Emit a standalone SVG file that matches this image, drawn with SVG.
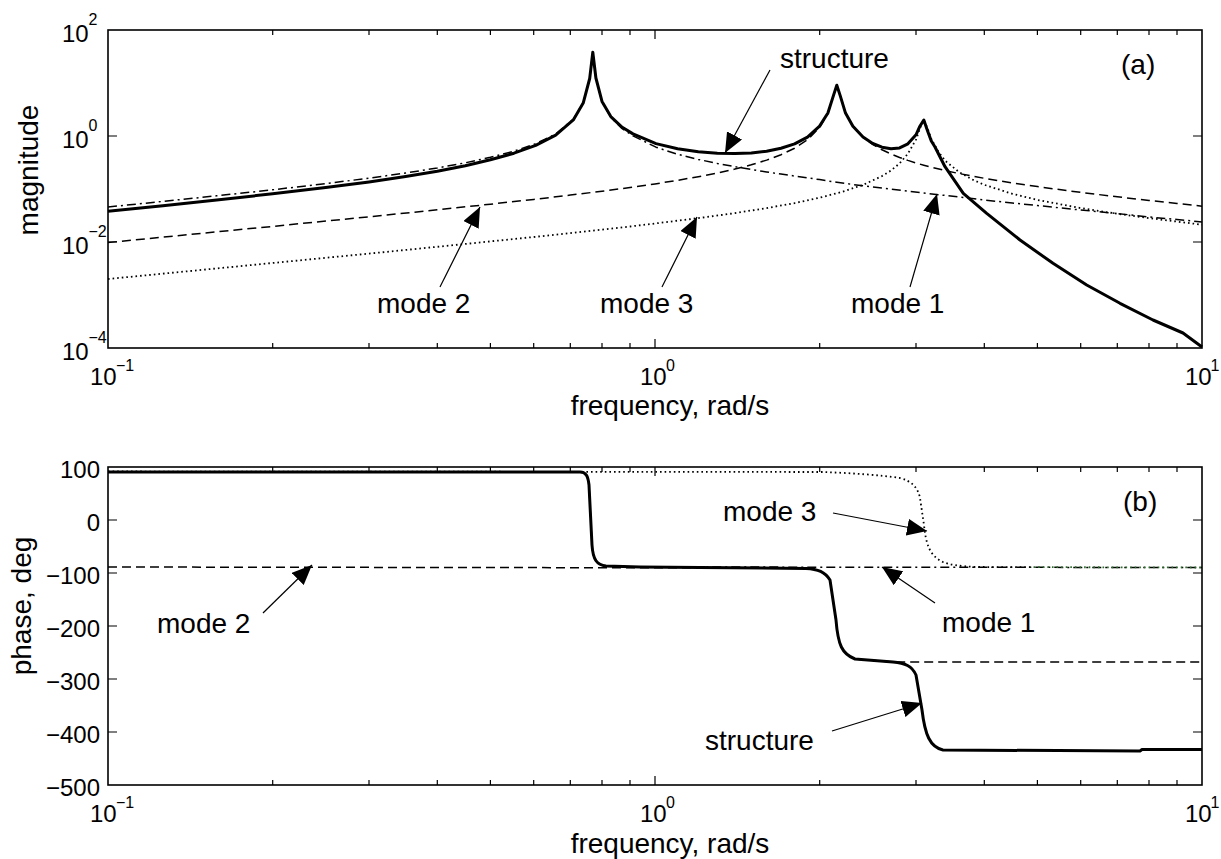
<svg xmlns="http://www.w3.org/2000/svg" width="1221" height="859" viewBox="0 0 1221 859">
<style>
text{font-family:"Liberation Sans",Arial,sans-serif;fill:#000}
.lbl{font-size:28px}
.tk{font-size:24px}
.sup{font-size:16px}
.ax{fill:none;stroke:#000;stroke-width:1.6}
.tick{stroke:#000;stroke-width:1.2}
.st{fill:none;stroke:#000;stroke-width:3;stroke-linejoin:round}
.m1{fill:none;stroke:#000;stroke-width:1.5;stroke-dasharray:9 4 2 4;stroke-linejoin:round}
.m2{fill:none;stroke:#000;stroke-width:1.5;stroke-dasharray:9 5;stroke-linejoin:round}
.m3{fill:none;stroke:#000;stroke-width:1.8;stroke-dasharray:1.6 3;stroke-linejoin:round}
.arr{fill:none;stroke:#000;stroke-width:1.2;marker-end:url(#ah)}
</style>
<defs>
<marker id="ah" markerUnits="userSpaceOnUse" markerWidth="20" markerHeight="17" viewBox="0 0 20 17" refX="20" refY="8.5" orient="auto">
<path d="M0,0 L20,8.5 L0,17 Z" fill="#000"/>
</marker>
<linearGradient id="tail" gradientUnits="userSpaceOnUse" x1="108" y1="0" x2="1202" y2="0">
<stop offset="0" stop-color="#000"/>
<stop offset="0.842" stop-color="#000"/>
<stop offset="0.845" stop-color="#2a6e2a"/>
<stop offset="1" stop-color="#2a6e2a"/>
</linearGradient>
</defs>
<rect width="1221" height="859" fill="#fff"/>

<g id="axes-a">
<rect class="ax" x="108" y="30" width="1094" height="318"/>
<path class="tick" d="M108,136H117M108,242H117M1202,136H1193M1202,242H1193"/>
<path class="tick" d="M655,348V339M655,30V39M272.7,348V343M369,348V343M437.3,348V343M490.4,348V343M533.7,348V343M570.3,348V343M602,348V343M630,348V343M819.7,348V343M916,348V343M984.3,348V343M1037.4,348V343M1080.7,348V343M1117.3,348V343M1149,348V343M1177,348V343M272.7,30V35M369,30V35M437.3,30V35M490.4,30V35M533.7,30V35M570.3,30V35M602,30V35M630,30V35M819.7,30V35M916,30V35M984.3,30V35M1037.4,30V35M1080.7,30V35M1117.3,30V35M1149,30V35M1177,30V35"/>
<text class="tk" x="62" y="42">10</text><text class="sup" x="88.5" y="25">2</text>
<text class="tk" x="62" y="148">10</text><text class="sup" x="88.5" y="131">0</text>
<text class="tk" x="62" y="254">10</text><text class="sup" x="88.5" y="237">−2</text>
<text class="tk" x="62" y="360">10</text><text class="sup" x="88.5" y="343">−4</text>
<text class="tk" x="90" y="385">10</text><text class="sup" x="116" y="371">−1</text>
<text class="tk" x="640" y="385">10</text><text class="sup" x="666" y="371">0</text>
<text class="tk" x="1185" y="385">10</text><text class="sup" x="1210.5" y="371">1</text>
<text class="lbl" transform="translate(38,170) rotate(-90)" text-anchor="middle">magnitude</text>
<text class="lbl" x="670" y="415" text-anchor="middle">frequency, rad/s</text>
<text class="lbl" x="1121" y="74">(a)</text>
</g>

<g id="curves-a">
<polyline id="mag-mode2" class="m2" points="108,242.5 272.6,226.4 369,216.8 437.3,209.8 490.4,204.2 533.7,199.4 570.3,195.1 602,191.2 630,187.5 655,183.9 677.6,180.3 698.3,176.7 717.3,173 734.9,169.1 751.3,164.8 766.6,160.1 781,154.7 794.6,148.2 807.5,139.8 819.6,127.4 827.9,113.6 833.5,95.6 836.8,85.2 840.2,95.4 845.5,112.8 852.9,125.8 863,137.1 872.7,144.4 882,149.8 891,154 899.6,157.5 907.9,160.4 916,163 923.8,165.2 931.3,167.2 945.7,170.7 959.3,173.6 972.2,176.1 984.3,178.3 1012.3,182.9 1037.4,186.6 1080.7,192.4 1117.3,196.8 1149,200.4 1177,203.5 1202,206.2"/>
<polyline id="mag-mode3" class="m3" points="108,279 272.6,263 369,253.6 437.3,246.8 490.4,241.4 533.7,237 570.3,233.1 602,229.6 630,226.5 655,223.5 698.3,218.1 734.9,213.1 766.6,208.1 794.6,203.1 819.6,197.7 842.3,191.8 863,184.9 882,176.1 891,170.5 899.6,163.4 907.9,153.7 916,139.6 919.9,128.6 923.8,120.1 927.6,128.4 931.3,139 938.6,152.2 945.7,161.2 959.3,172.3 972.2,179.5 984.3,184.8 1012.3,193.8 1037.4,199.9 1080.7,208.1 1117.3,213.8 1149,218.1 1177,221.6 1202,224.7"/>
<polyline id="mag-mode1" class="m1" points="108,207 162.9,201.4 216.7,195.8 272.6,189.8 325.7,183.6 369,178.2 405.6,173 437.3,168 465.3,162.8 490.4,157.3 514,151.1 535.7,143.7 555.7,134 573.3,119.2 583.2,102.7 589.7,78.4 592.8,52.3 595.9,78.1 602,101.8 610.8,117.3 622.2,128.6 633,135.8 656,147.2 677.6,154.3 698.3,159.4 717.3,163.4 734.9,166.7 751.3,169.5 766.6,171.9 781,174.1 794.6,176 807.5,177.8 819.6,179.6 836.8,182.3 852.9,184.5 872.7,187 891,189.2 907.9,191.2 923.8,193 945.7,195.5 972.2,198.5 984.3,200 1012.3,203 1037.4,205.5 1080.7,210 1117.3,213.5 1149,217 1177,219.5 1202,222"/>
<polyline id="mag-structure" class="st" points="108,211.3 162.9,205.7 216.7,200 272.6,193.8 325.7,187.6 369,181.9 405.6,176.5 437.3,171.2 465.3,165.7 490.4,159.8 514,153.2 535.7,145.4 555.7,135.2 573.3,119.9 583.2,103.1 589.7,78.5 592.8,52.3 595.9,78 602,101.4 610.8,116.6 622.2,127.3 633,133.9 656,143.6 677.6,148.8 698.3,151.8 717.3,153.2 734.9,153.6 751.3,152.9 766.6,151.2 781,148.3 794.6,143.9 807.5,137.2 819.6,126.1 827.9,113 833.5,95.4 836.8,85.2 840.2,95.6 845.5,113.1 852.9,126.2 863,137.1 872.7,143.5 882,147.2 891,148.7 899.6,147.9 907.9,143.8 916,134.8 919.9,126.2 923.8,120 927.6,131 931.3,141 935,147 945,166.7 963.3,193.3 986.7,213.3 1020,240 1053,263.3 1086.7,285 1120,303.3 1153,320 1183,333 1202,347"/>
</g>

<g id="axes-b">
<rect class="ax" x="108" y="467" width="1094" height="318"/>
<path class="tick" d="M108,520H117M108,573H117M108,626H117M108,679H117M108,732H117M1202,520H1193M1202,573H1193M1202,626H1193M1202,679H1193M1202,732H1193"/>
<path class="tick" d="M655,785V776M655,467V476M272.7,785V780M369,785V780M437.3,785V780M490.4,785V780M533.7,785V780M570.3,785V780M602,785V780M630,785V780M819.7,785V780M916,785V780M984.3,785V780M1037.4,785V780M1080.7,785V780M1117.3,785V780M1149,785V780M1177,785V780M272.7,467V472M369,467V472M437.3,467V472M490.4,467V472M533.7,467V472M570.3,467V472M602,467V472M630,467V472M819.7,467V472M916,467V472M984.3,467V472M1037.4,467V472M1080.7,467V472M1117.3,467V472M1149,467V472M1177,467V472"/>
<text class="tk" x="100" y="478" text-anchor="end">100</text>
<text class="tk" x="100" y="531" text-anchor="end">0</text>
<text class="tk" x="100" y="584" text-anchor="end">−100</text>
<text class="tk" x="100" y="637" text-anchor="end">−200</text>
<text class="tk" x="100" y="690" text-anchor="end">−300</text>
<text class="tk" x="100" y="743" text-anchor="end">−400</text>
<text class="tk" x="100" y="796" text-anchor="end">−500</text>
<text class="tk" x="90" y="822">10</text><text class="sup" x="116" y="808">−1</text>
<text class="tk" x="640" y="822">10</text><text class="sup" x="666" y="808">0</text>
<text class="tk" x="1185" y="822">10</text><text class="sup" x="1210.5" y="808">1</text>
<text class="lbl" transform="translate(31,606) rotate(-90)" text-anchor="middle">phase, deg</text>
<text class="lbl" x="670" y="853" text-anchor="middle">frequency, rad/s</text>
<text class="lbl" x="1123" y="511">(b)</text>
</g>

<g id="curves-b">
<path id="ph-mode1" class="m1" d="M108,472 L580,472 C586,472 588,476 589,485 L592,545 C593,560 597,565 606,566 L640,567 L1202,567.5"/>
<path id="ph-mode2" class="m2" d="M108,567 L806,568 C818,569 825,572 830,580 L836,620 C838,645 842,654 855,659 L893,662 L1202,662"/>
<path id="ph-mode3" class="m3" style="stroke:url(#tail)" d="M108,471.5 L823,472 C850,473 880,475 900,478 C912,481 918,488 920,498 L924,525 C926,545 930,556 943,562 C950,565 960,566 975,567 L1202,567.5"/>
<path id="ph-structure" class="st" d="M108,472 L580,472 C586,472 588,476 589,485 L592,545 C593,560 597,565 606,566 L640,567 L700,567.5 L806,568.5 C818,569 825,572 830,580 L836,620 C838,645 842,654 855,659 L893,662 C905,663 912,666 916,675 L922,710 C925,735 930,747 943,750 L1140,751 L1142,749.5 L1202,749.5"/>
</g>

<g id="labels">
<text class="lbl" x="780" y="68">structure</text>
<text class="lbl" x="377" y="313">mode 2</text>
<text class="lbl" x="600" y="313">mode 3</text>
<text class="lbl" x="851" y="313">mode 1</text>
<text class="lbl" x="723" y="521">mode 3</text>
<text class="lbl" x="942" y="632">mode 1</text>
<text class="lbl" x="157" y="633">mode 2</text>
<text class="lbl" x="705" y="750">structure</text>
</g>

<g id="connectors">
<path class="arr" d="M770,70 L725,153"/>
<path class="arr" d="M440,287 L480,207"/>
<path class="arr" d="M662,287 L697,217"/>
<path class="arr" d="M910,287 L937,194"/>
<path class="arr" d="M833,513 L927,531"/>
<path class="arr" d="M935,603 L882,567"/>
<path class="arr" d="M263,613 L312,565"/>
<path class="arr" d="M832,731 L922,703"/>
</g>
</svg>
